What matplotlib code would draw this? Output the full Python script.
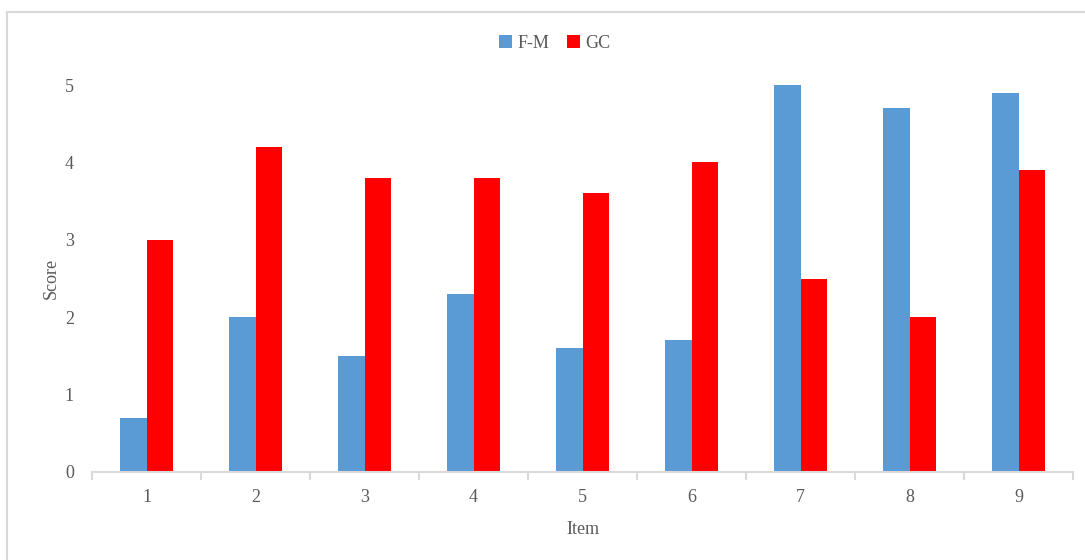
import matplotlib
matplotlib.use("Agg")
import matplotlib.pyplot as plt
from matplotlib.patches import Rectangle
import numpy as np

items = ["1", "2", "3", "4", "5", "6", "7", "8", "9"]
fm = [0.7, 2.0, 1.5, 2.3, 1.6, 1.7, 5.0, 4.7, 4.9]
gc = [3.0, 4.2, 3.8, 3.8, 3.6, 4.0, 2.5, 2.0, 3.9]
yticks = [0, 1, 2, 3, 4, 5]

plt.rcParams['font.family'] = ['Liberation Serif', 'DejaVu Serif']
W, H = 1085, 560
fig = plt.figure(figsize=(W / 100, H / 100), dpi=100)

# outer chart border (extends beyond right/bottom edge as in reference)
fig.patches.append(Rectangle((7 / W, -0.1), 1.2, 1 - 12 / H + 0.1, transform=fig.transFigure,
                             fill=False, edgecolor='#d9d9d9', linewidth=1.5))

ax = fig.add_axes([92 / W, (H - 472) / H, (1073 - 92) / W, (472 - 85) / H])
x = np.arange(len(items))
bw = 0.245
ax.bar(x - bw / 2, fm, bw, color='#5b9bd5', label='F-M', zorder=2)
ax.bar(x + bw / 2, gc, bw, color='#ff0000', label='GC', zorder=2)

ax.set_xlim(-0.5, len(items) - 0.5)
ax.set_ylim(0, 5)
ax.set_yticks(yticks)
ax.set_yticklabels([str(v) for v in yticks])
ax.set_xticks(x)
ax.set_xticklabels(items)
ax.set_xticks(np.arange(-0.5, len(items)), minor=True)
ax.tick_params(axis='x', which='major', length=0, pad=12, labelsize=13, labelcolor='#595959')
ax.tick_params(axis='x', which='minor', length=6, width=1.5, color='#d9d9d9', direction='out')
ax.tick_params(axis='y', length=0, pad=13, labelsize=13, labelcolor='#595959')

for s in ['top', 'right', 'left']:
    ax.spines[s].set_visible(False)
ax.spines['bottom'].set_color('#d9d9d9')
ax.spines['bottom'].set_linewidth(1.5)

ax.set_xlabel('Item', fontsize=13, color='#595959', labelpad=11)
ax.set_ylabel('Score', fontsize=13, color='#595959', labelpad=4)

leg = fig.legend(loc='center', bbox_to_anchor=(555 / W, 1 - 43 / H), ncol=2, frameon=False,
                 fontsize=13, handlelength=0.7, handleheight=0.7, handletextpad=0.3,
                 columnspacing=1.0, labelcolor='#595959')

fig.savefig('out.png', dpi=100)
